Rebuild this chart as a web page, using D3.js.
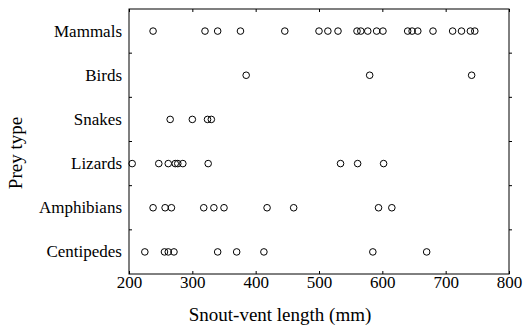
<!DOCTYPE html>
<html>
<head>
<meta charset="utf-8">
<script src="https://cdn.jsdelivr.net/npm/d3@7"></script>
<style>
  body { margin: 0; background: #fff; }
  svg text { font-family: "Liberation Serif", "Times New Roman", serif; fill: #000; }
</style>
</head>
<body>
<div id="chart"></div>
<script>
// prey categories, top to bottom
const preyTypes = ["Mammals", "Birds", "Snakes", "Lizards", "Amphibians", "Centipedes"];

// snout-vent length (mm) of each prey item
const mammals = [238, 320, 340, 376, 446, 500, 514, 530, 560, 566, 577, 591, 601, 640, 647, 656, 680, 711, 725, 739, 746];
const birds = [385, 580, 741];
const snakes = [265, 300, 324, 330];
const lizards = [205, 247, 262, 273, 277, 285, 325, 534, 561, 602];
const amphibians = [238, 257, 267, 318, 334, 350, 418, 460, 594, 615];
const centipedes = [225, 256, 262, 271, 340, 370, 413, 585, 670];

const xTicks = [200, 300, 400, 500, 600, 700, 800];

const seriesByType = {
  Mammals: mammals, Birds: birds, Snakes: snakes,
  Lizards: lizards, Amphibians: amphibians, Centipedes: centipedes
};
const points = preyTypes.flatMap(t => seriesByType[t].map(v => ({type: t, svl: v})));

const width = 523, height = 328;
const margin = {top: 9, right: 14, bottom: 54, left: 129};
const innerW = width - margin.left - margin.right;
const innerH = height - margin.top - margin.bottom;

const svg = d3.select("#chart").append("svg")
  .attr("width", width)
  .attr("height", height);

const g = svg.append("g")
  .attr("transform", `translate(${margin.left},${margin.top})`);

const x = d3.scaleLinear().domain([200, 800]).range([0, innerW]);
const y = d3.scaleBand().domain(preyTypes).range([0, innerH]);

// frame
g.append("rect")
  .attr("width", innerW).attr("height", innerH)
  .attr("fill", "none").attr("stroke", "#000").attr("stroke-width", 1);

// bottom axis (ticks point inward)
const xAxis = g.append("g")
  .attr("transform", `translate(0,${innerH})`)
  .call(d3.axisBottom(x).tickValues(xTicks).tickSizeInner(-3).tickSizeOuter(0).tickPadding(2));
xAxis.select(".domain").remove();
xAxis.selectAll("text").attr("font-size", 17).attr("dy", "0.71em");

// top ticks
const xTop = g.append("g")
  .call(d3.axisTop(x).tickValues(xTicks).tickSizeInner(-3).tickSizeOuter(0).tickFormat(""));
xTop.select(".domain").remove();

// left axis: labels at band centers, ticks at band boundaries
const yAxis = g.append("g")
  .call(d3.axisLeft(y).tickSize(0).tickPadding(7));
yAxis.select(".domain").remove();
yAxis.selectAll("text").attr("font-size", 17);

const boundaries = preyTypes.slice(1).map(t => y(t));
g.append("g").selectAll("line")
  .data(boundaries).join("line")
  .attr("x1", 0).attr("x2", 3)
  .attr("y1", d => d).attr("y2", d => d)
  .attr("stroke", "#000");
g.append("g").selectAll("line")
  .data(boundaries).join("line")
  .attr("x1", innerW).attr("x2", innerW + 3)
  .attr("y1", d => d).attr("y2", d => d)
  .attr("stroke", "#000");

// points
g.append("g").selectAll("circle")
  .data(points).join("circle")
  .attr("cx", d => x(d.svl))
  .attr("cy", d => y(d.type) + y.bandwidth() / 2)
  .attr("r", 3.3)
  .attr("fill", "none")
  .attr("stroke", "#000")
  .attr("stroke-width", 1);

// axis titles
svg.append("text")
  .attr("x", 280)
  .attr("y", 321)
  .attr("text-anchor", "middle")
  .attr("font-size", 19)
  .text("Snout-vent length (mm)");

svg.append("text")
  .attr("transform", `translate(22,153) rotate(-90)`)
  .attr("text-anchor", "middle")
  .attr("font-size", 19)
  .text("Prey type");
</script>
</body>
</html>
